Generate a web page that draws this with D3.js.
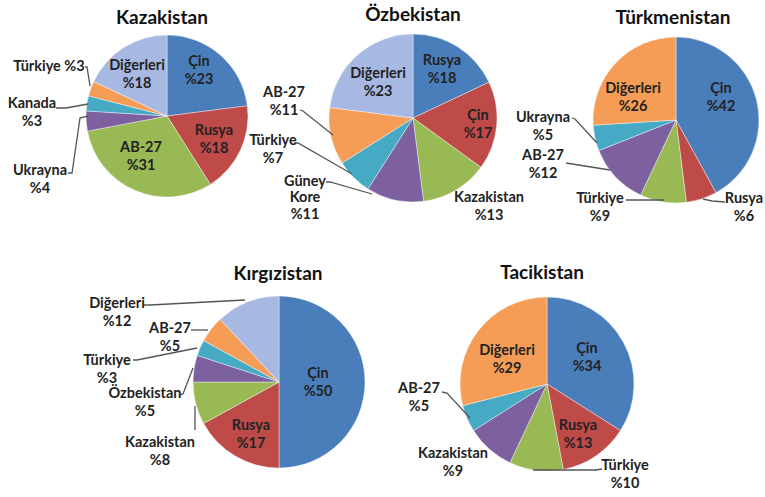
<!DOCTYPE html>
<html><head><meta charset="utf-8">
<script src="https://cdn.jsdelivr.net/npm/d3@7"></script>
<style>body{margin:0;background:#fff}svg{display:block}</style>
</head><body>
<svg id="c" width="765" height="497"></svg>
<script>
// ---- data ----
const kazLabels = ["Çin","Rusya","AB-27","Ukrayna","Kanada","Türkiye","Diğerleri"];
const kazValues = [23,18,31,4,3,3,18];
const ozbLabels = ["Rusya","Çin","Kazakistan","Güney Kore","Türkiye","AB-27","Diğerleri"];
const ozbValues = [18,17,13,11,7,11,23];
const turLabels = ["Çin","Rusya","Türkiye","AB-27","Ukrayna","Diğerleri"];
const turValues = [42,6,9,12,5,26];
const kirLabels = ["Çin","Rusya","Kazakistan","Özbekistan","Türkiye","AB-27","Diğerleri"];
const kirValues = [50,17,8,5,3,5,12];
const tacLabels = ["Çin","Rusya","Türkiye","Kazakistan","AB-27","Diğerleri"];
const tacValues = [34,13,10,9,5,29];
const titles = ["Kazakistan","Özbekistan","Türkmenistan","Kırgızistan","Tacikistan"];

const palette = ["#4a7ebb","#be4b48","#98b954","#7d60a0","#46aac5","#f59d56","#a7b9e3"];

// ---- layout (positions only) ----
const layouts = [
  {labels:kazLabels, values:kazValues, title:titles[0], cx:167, cy:116, r:81, tx:162, ty:19,
   colors:[0,1,2,3,4,5,6],
   text:[[199,62,1],[214,131,1],[141,148,1],[40,171,1],[32,104,1],[49,67,0],[137,66,1]],
   lines:[null,null,null,[[68,173],[72,173],[80,118],[88,116]],[[56,108],[66,108],[88,104]],[[85,67],[87,67],[90,86]],null]},
  {labels:ozbLabels, values:ozbValues, title:titles[1], cx:413, cy:118, r:84, tx:413, ty:16,
   colors:[0,1,2,3,4,5,6],
   text:[[442,61,1],[478,116,1],[489,198,1],[305,182,2],[273,141,1],[284,93,1],[378,74,1]],
   lines:[null,null,null,[[326,182],[330,182],[372,194]],[[294,143],[298,143],[352,174]],[[300,110],[303,111],[333,135]],null]},
  {labels:turLabels, values:turValues, title:titles[2], cx:676, cy:120, r:83, tx:673, ty:19,
   colors:[0,1,2,3,4,5],
   text:[[721,89,1],[744,199,1],[600,199,1],[543,156,1],[543,118,1],[633,89,1]],
   lines:[null,[[703,199],[712,201],[725,202]],[[626,200],[664,200]],[[566,163],[610,170]],[[572,118],[575,119],[597,143]],null]},
  {labels:kirLabels, values:kirValues, title:titles[3], cx:279, cy:382, r:86, tx:278, ty:275,
   colors:[0,1,2,3,4,5,6],
   text:[[318,374,1],[251,426,1],[160,443,1],[145,394,1],[107,361,1],[170,329,1],[117,304,1]],
   lines:[null,null,[[195,430],[195,406]],[[179,395],[183,394],[193,368]],[[133,360],[137,360],[197,348]],[[191,330],[208,330]],[[144,305],[150,305],[245,300]]]},
  {labels:tacLabels, values:tacValues, title:titles[4], cx:547, cy:384, r:87, tx:542, ty:274,
   colors:[0,1,2,3,4,5],
   text:[[587,349,1],[578,426,1],[625,466,1],[453,454,1],[419,389,1],[507,351,1]],
   lines:[null,null,[[602,469],[596,470],[533,470]],null,[[442,392],[447,393],[470,418]],null]}
];

const svg = d3.select("#c");
const font = "Lato, 'Liberation Sans', Arial, sans-serif";
const pie = d3.pie().sort(null).value(d => d);

layouts.forEach(L => {
  const g = svg.append("g");
  g.append("text").attr("x", L.tx).attr("y", L.ty).attr("text-anchor","middle")
    .attr("dominant-baseline","middle").attr("font-family",font).attr("font-weight","bold")
    .attr("font-size",19).attr("fill","#111").text(L.title);
  const arc = d3.arc().innerRadius(0).outerRadius(L.r);
  const arcs = pie(L.values);
  g.append("g").attr("transform",`translate(${L.cx},${L.cy})`)
    .selectAll("path").data(arcs).join("path")
    .attr("d", arc).attr("fill",(d,i)=>palette[L.colors[i]])
    .attr("stroke","rgba(255,255,255,0.4)").attr("stroke-width",1);
  L.lines.forEach(pts => {
    if (!pts) return;
    g.append("path").attr("d", d3.line()(pts)).attr("fill","none")
      .attr("stroke","#555").attr("stroke-width",1.3);
  });
  L.labels.forEach((lab,i) => {
    const [x,y,mode] = L.text[i];
    let lines;
    if (mode === 0) lines = [lab + " %" + L.values[i]];
    else if (mode === 2) lines = lab.split(" ").concat(["%" + L.values[i]]);
    else lines = [lab, "%" + L.values[i]];
    const t = g.append("text").attr("text-anchor","middle").attr("font-family",font)
      .attr("font-weight","bold").attr("font-size",14.5).attr("fill","#222");
    lines.forEach((s,k) => {
      t.append("tspan").attr("x",x).attr("y",y + k*(mode===2?16.5:18.5))
        .attr("dominant-baseline","middle").text(s);
    });
  });
});
</script>
</body></html>
